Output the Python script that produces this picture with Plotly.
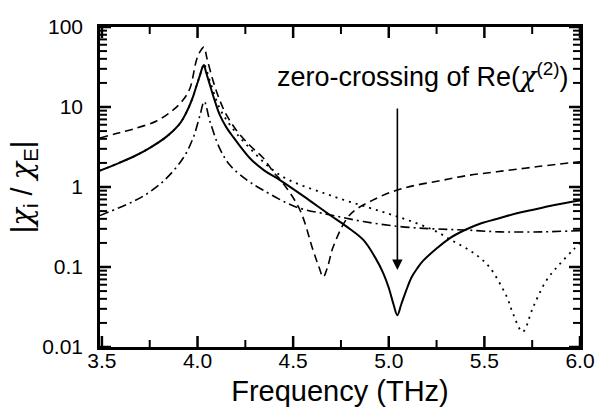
import numpy as np
import plotly.graph_objects as go

# ---- data (frequency in THz, |chi_i/chi_E|) ----
solid_f = [3.49, 3.60, 3.664, 3.751, 3.838, 3.90, 3.925, 3.955, 3.977, 3.995, 4.013, 4.025, 4.033,
           4.045, 4.065, 4.09, 4.117, 4.15, 4.187, 4.274, 4.35, 4.431, 4.55, 4.692, 4.78, 4.867,
           4.93, 4.971, 5.00, 5.025, 5.045, 5.065, 5.09, 5.12, 5.15, 5.18, 5.25, 5.32, 5.398,
           5.48, 5.582, 5.67, 5.756, 5.86, 5.965, 6.0]
solid_v = [1.60, 2.05, 2.39, 3.09, 4.26, 5.9, 7.2, 10.0, 13.6, 18.5, 25.0, 31.0, 33.5,
           27.0, 18.8, 12.0, 7.9, 5.6, 4.2, 2.29, 1.6, 1.22, 0.78, 0.447, 0.32, 0.218,
           0.13, 0.084, 0.055, 0.034, 0.025, 0.034, 0.05, 0.075, 0.097, 0.12, 0.17, 0.23, 0.29,
           0.35, 0.41, 0.47, 0.52, 0.59, 0.66, 0.68]

dash_f = [3.49, 3.58, 3.664, 3.786, 3.873, 3.925, 3.96, 3.995, 4.015, 4.033, 4.05, 4.082, 4.117,
          4.152, 4.204, 4.274, 4.344, 4.396, 4.448, 4.535, 4.605, 4.635, 4.657, 4.68, 4.71,
          4.797, 4.919, 5.04, 5.14, 5.27, 5.40, 5.564, 5.78, 6.0]
dash_v = [4.1, 4.7, 5.3, 6.7, 9.2, 12.3, 17.0, 39.0, 50.0, 56.0, 40.0, 21.0, 12.0,
          7.9, 5.1, 3.3, 2.3, 1.55, 1.11, 0.52, 0.16, 0.10, 0.075, 0.10, 0.18,
          0.45, 0.69, 0.91, 1.05, 1.2, 1.38, 1.55, 1.8, 2.07]

dot_f = [3.49, 3.60, 3.664, 3.751, 3.838, 3.90, 3.925, 3.955, 3.977, 3.995, 4.013, 4.025, 4.033,
         4.045, 4.065, 4.117, 4.169, 4.25, 4.431, 4.692, 4.954, 5.094, 5.233, 5.338, 5.425, 5.477,
         5.529, 5.616, 5.65, 5.70, 5.756, 5.826, 5.896, 5.965, 6.0]
dot_v = [1.60, 2.05, 2.39, 3.09, 4.26, 5.9, 7.2, 10.0, 13.6, 18.5, 25.0, 31.0, 35.0,
         30.0, 21.0, 9.5, 6.0, 3.5, 1.41, 0.79, 0.50, 0.39, 0.29, 0.21, 0.16, 0.13,
         0.098, 0.043, 0.026, 0.0155, 0.032, 0.069, 0.11, 0.165, 0.2]

dd_f = [3.49, 3.664, 3.751, 3.838, 3.925, 3.977, 4.013, 4.035, 4.065, 4.117, 4.169, 4.257,
        4.344, 4.518, 4.692, 4.867, 5.06, 5.233, 5.398, 5.582, 5.8, 6.0]
dd_v = [0.44, 0.66, 0.87, 1.29, 2.3, 4.1, 7.9, 11.7, 6.6, 3.0, 1.88, 1.23,
        0.91, 0.56, 0.45, 0.37, 0.32, 0.30, 0.29, 0.275, 0.275, 0.285]

x_range = [3.49, 6.0]
x_ticks = [3.5, 4.0, 4.5, 5.0, 5.5, 6.0]
x_ticktext = ["3.5", "4.0", "4.5", "5.0", "5.5", "6.0"]
x_minor = [3.75, 4.25, 4.75, 5.25, 5.75]
y_range_log = [-2, 2]
y_ticks = [0.01, 0.1, 1, 10, 100]
y_ticktext = ["0.01", "0.1", "1", "10", "100"]
y_minor = [m * d for d in [0.01, 0.1, 1, 10] for m in range(2, 10)]

arrow_x = 5.045
arrow_tip_v = 0.092

W, H = 598, 417
ML, MR, MT, MB = 100, 18, 27, 70
PW, PH = W - ML - MR, H - MT - MB

FONT = "Liberation Sans, Arial, Helvetica, sans-serif"
CHI = "<span style=\"font-family:DejaVu Serif;font-style:italic\">\u03c7</span>"

fig = go.Figure()
common = dict(mode="lines", line_shape="spline", showlegend=False, hoverinfo="skip")
fig.add_trace(go.Scatter(x=dd_f, y=dd_v, line=dict(color="black", width=1.6, dash="9px,4px,2px,4px"), **common))
fig.add_trace(go.Scatter(x=dot_f, y=dot_v, line=dict(color="black", width=1.8, dash="2px,5px"), **common))
fig.add_trace(go.Scatter(x=dash_f, y=dash_v, line=dict(color="black", width=1.6, dash="8px,5px"), **common))
fig.add_trace(go.Scatter(x=solid_f, y=solid_v, line=dict(color="black", width=2), **common))

tickfont = dict(family=FONT, size=21, color="black")

fig.update_layout(
    width=W, height=H,
    margin=dict(l=ML, r=MR, t=MT, b=MB),
    paper_bgcolor="white", plot_bgcolor="white",
    font=dict(family=FONT, color="black"),
    xaxis=dict(
        range=x_range, tickmode="array", tickvals=x_ticks, ticktext=x_ticktext,
        showline=True, linecolor="black", linewidth=2.5, mirror=True, ticks="",
        showgrid=False, zeroline=False, automargin=False, tickfont=tickfont,
        title=dict(text="Frequency (THz)", font=dict(family=FONT, size=29, color="black"), standoff=10),
    ),
    yaxis=dict(
        type="log", range=y_range_log, tickmode="array", tickvals=y_ticks, ticktext=y_ticktext,
        showline=True, linecolor="black", linewidth=2.5, mirror=True, ticks="",
        showgrid=False, zeroline=False, automargin=False, tickfont=tickfont,
        ticklabelstandoff=10,
        title=dict(text="|" + CHI + "<sub>i</sub> / " + CHI + "<sub>E</sub>|",
                   font=dict(family=FONT, size=29, color="black"), standoff=2),
    ),
)
try:
    fig.layout.xaxis.ticklabelstandoff = -7
except Exception:
    fig.layout.xaxis.ticklabelstandoff = 0

# ---- inside tick marks on all four sides, drawn as paper-referenced line shapes ----
shapes = []
for vals, length, width in ((x_ticks, 11, 2.5), (x_minor, 7, 2)):
    frac = length / PH
    for v in vals:
        shapes.append(dict(type="line", xref="x", yref="paper", x0=v, x1=v, y0=0, y1=frac,
                           line=dict(color="black", width=width), layer="above"))
        shapes.append(dict(type="line", xref="x", yref="paper", x0=v, x1=v, y0=1, y1=1 - frac,
                           line=dict(color="black", width=width), layer="above"))
for vals, length, width in ((y_ticks, 11, 2.5), (y_minor, 7, 2)):
    frac = length / PW
    for v in vals:
        p = (np.log10(v) - y_range_log[0]) / (y_range_log[1] - y_range_log[0])
        shapes.append(dict(type="line", xref="paper", yref="paper", x0=0, x1=frac, y0=p, y1=p,
                           line=dict(color="black", width=width), layer="above"))
        shapes.append(dict(type="line", xref="paper", yref="paper", x0=1, x1=1 - frac, y0=p, y1=p,
                           line=dict(color="black", width=width), layer="above"))
fig.update_layout(shapes=shapes)

fig.add_annotation(
    text="zero-crossing of Re(" + CHI + "<sup>(2)</sup>)", xref="paper", yref="paper",
    x=0.673, y=0.85, showarrow=False, font=dict(family=FONT, size=27, color="black"),
    xanchor="center", yanchor="middle",
)
fig.add_annotation(
    text="", xref="x", yref="y", x=arrow_x, y=np.log10(arrow_tip_v),
    showarrow=True, arrowhead=2, arrowsize=1.3, arrowwidth=1.6, arrowcolor="black",
    ax=0, ay=-163,
)

fig.write_html("out.html", config={"displayModeBar": False})

with open("out.html", "r", encoding="utf-8") as fh:
    html = fh.read()
html = html.replace("<head>", "<head><style>html,body{margin:0;padding:0;overflow:hidden;}</style>", 1)
with open("out.html", "w", encoding="utf-8") as fh:
    fh.write(html)
